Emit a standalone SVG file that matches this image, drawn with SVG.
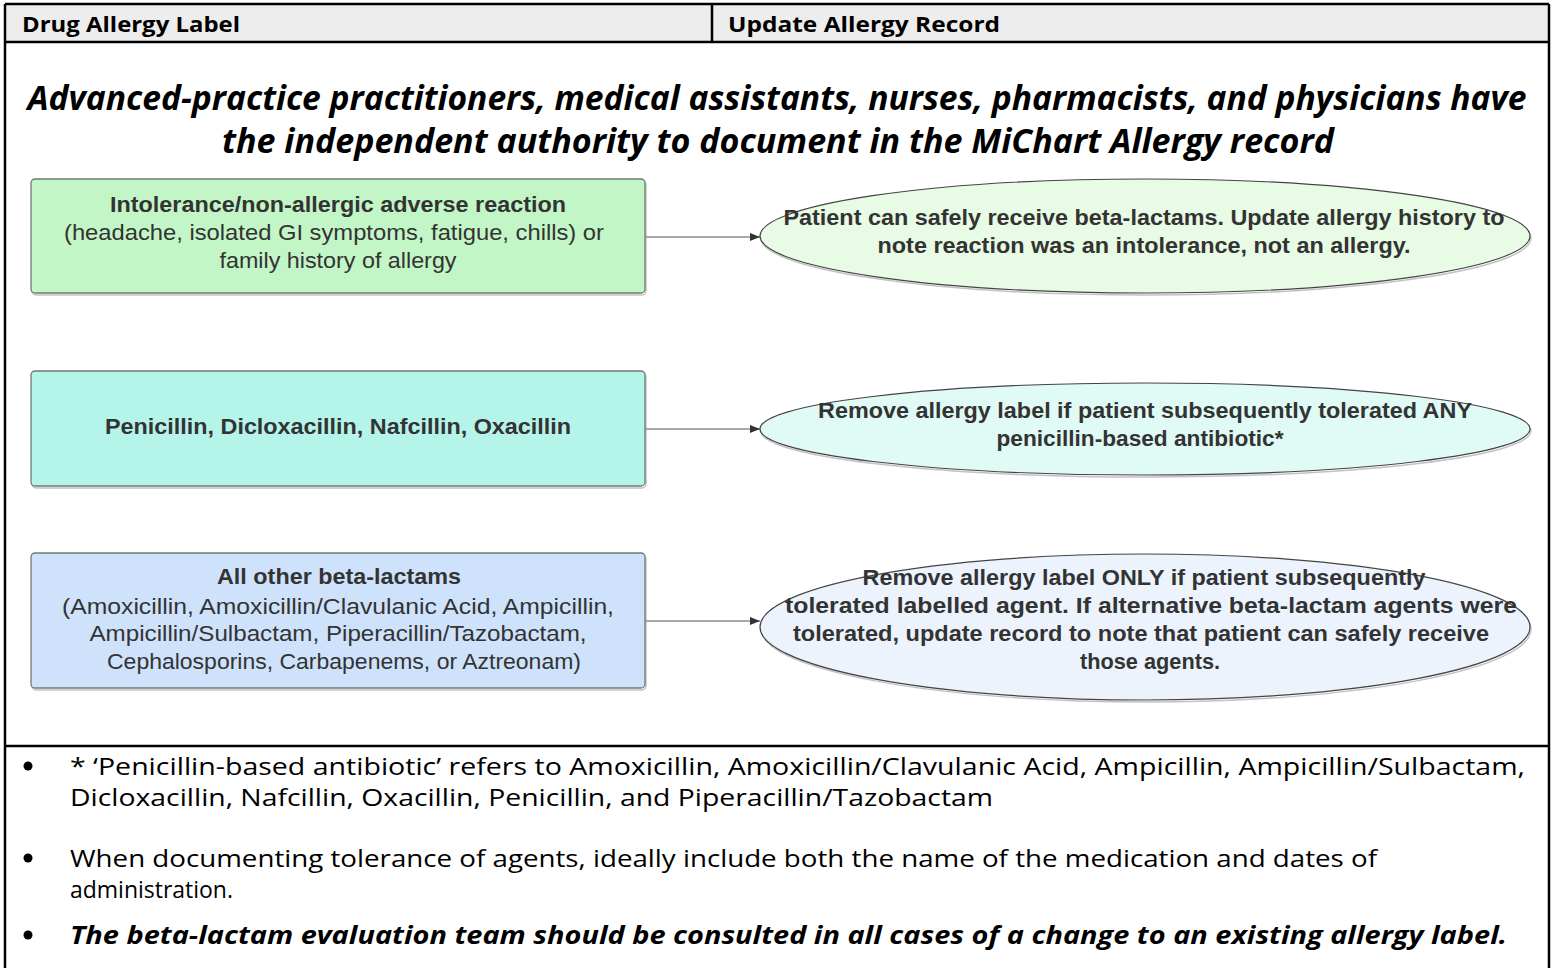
<svg xmlns="http://www.w3.org/2000/svg" width="1554" height="968" viewBox="0 0 1554 968">
<defs>
<marker id="ah" viewBox="0 0 10 10" refX="10" refY="5" markerWidth="10" markerHeight="10" markerUnits="userSpaceOnUse" orient="auto"><path d="M0,1 L10,5 L0,9 z" fill="#333"/></marker>
<style>
.hdr{font-family:"Open Sans","Liberation Sans",sans-serif;font-weight:bold;font-size:22px;fill:#000}
.ttl{font-family:"Open Sans","Liberation Sans",sans-serif;font-weight:bold;font-style:italic;font-size:34px;fill:#000;text-anchor:middle}
.nt{font-family:"Liberation Sans",Arial,sans-serif;font-size:22px;fill:#333;text-anchor:middle}
.b{font-weight:bold}
.bl{font-family:"Open Sans","Liberation Sans",sans-serif;font-size:24.5px;fill:#000}
.box{stroke:#707a70;stroke-width:1.3}
.ell{stroke:#444;stroke-width:1.2}
.conn{stroke:#555;stroke-width:1.2;fill:none}
.grid{stroke:#000;stroke-width:2.5;fill:none}
.sh{fill:none;stroke:#9a9a9a;stroke-width:1.5;opacity:0.6}
</style>
</defs>
<rect x="0" y="0" width="1554" height="968" fill="#fff"/>
<g id="table">
<rect x="5" y="4" width="1544" height="38" fill="#ededed"/>
<path class="grid" d="M5,4 H1549 M5,42 H1549 M712,4 V42 M5,4 V968 M1549,4 V968 M5,746 H1549"/>
<text class="hdr" x="22" y="32" textLength="218" lengthAdjust="spacingAndGlyphs">Drug Allergy Label</text>
<text class="hdr" x="728" y="32" textLength="272" lengthAdjust="spacingAndGlyphs">Update Allergy Record</text>
<text class="ttl" x="777" y="110" textLength="1499" lengthAdjust="spacingAndGlyphs">Advanced-practice practitioners, medical assistants, nurses, pharmacists, and physicians have</text>
<text class="ttl" x="778" y="153" textLength="1112" lengthAdjust="spacingAndGlyphs">the independent authority to document in the MiChart Allergy record</text>
</g>
<g id="connectors">
<path class="conn" d="M645,237 H760" marker-end="url(#ah)"/>
<path class="conn" d="M645,429 H760" marker-end="url(#ah)"/>
<path class="conn" d="M645,621 H760" marker-end="url(#ah)"/>
</g>
<g id="n1">
<rect class="sh" x="32" y="181" width="614" height="114" rx="4"/>
<rect class="box" x="31" y="179" width="614" height="114" rx="4" fill="#c3f6c6"/>
<text class="nt b" x="338" y="212" textLength="456" lengthAdjust="spacingAndGlyphs">Intolerance/non-allergic adverse reaction</text>
<text class="nt" x="334" y="240" textLength="540" lengthAdjust="spacingAndGlyphs">(headache, isolated GI symptoms, fatigue, chills) or</text>
<text class="nt" x="338" y="268" textLength="237" lengthAdjust="spacingAndGlyphs">family history of allergy</text>
</g>
<g id="n2">
<rect class="sh" x="32" y="373" width="614" height="115" rx="4"/>
<rect class="box" x="31" y="371" width="614" height="115" rx="4" fill="#b4f4e9"/>
<text class="nt b" x="338" y="434" textLength="466" lengthAdjust="spacingAndGlyphs">Penicillin, Dicloxacillin, Nafcillin, Oxacillin</text>
</g>
<g id="n3">
<rect class="sh" x="32" y="555" width="614" height="135" rx="4"/>
<rect class="box" x="31" y="553" width="614" height="135" rx="4" fill="#cfe2fb"/>
<text class="nt b" x="339" y="584" textLength="244" lengthAdjust="spacingAndGlyphs">All other beta-lactams</text>
<text class="nt" x="338" y="614" textLength="552" lengthAdjust="spacingAndGlyphs">(Amoxicillin, Amoxicillin/Clavulanic Acid, Ampicillin,</text>
<text class="nt" x="338" y="641" textLength="497" lengthAdjust="spacingAndGlyphs">Ampicillin/Sulbactam, Piperacillin/Tazobactam,</text>
<text class="nt" x="344" y="669" textLength="474" lengthAdjust="spacingAndGlyphs">Cephalosporins, Carbapenems, or Aztreonam)</text>
</g>
<g id="e1">
<ellipse class="sh" cx="1146" cy="238" rx="385" ry="57"/>
<ellipse class="ell" cx="1145" cy="236" rx="385" ry="57" fill="#e7fbe5"/>
<text class="nt b" x="1144" y="225" textLength="721" lengthAdjust="spacingAndGlyphs">Patient can safely receive beta-lactams. Update allergy history to</text>
<text class="nt b" x="1144" y="253" textLength="533" lengthAdjust="spacingAndGlyphs">note reaction was an intolerance, not an allergy.</text>
</g>
<g id="e2">
<ellipse class="sh" cx="1146" cy="431" rx="385" ry="46"/>
<ellipse class="ell" cx="1145" cy="429" rx="385" ry="46" fill="#e0faf5"/>
<text class="nt b" x="1145" y="418" textLength="654" lengthAdjust="spacingAndGlyphs">Remove allergy label if patient subsequently tolerated ANY</text>
<text class="nt b" x="1140" y="446" textLength="287" lengthAdjust="spacingAndGlyphs">penicillin-based antibiotic*</text>
</g>
<g id="e3">
<ellipse class="sh" cx="1146" cy="629" rx="385" ry="73"/>
<ellipse class="ell" cx="1145" cy="627" rx="385" ry="73" fill="#ecf3fd"/>
<text class="nt b" x="1144" y="585" textLength="563" lengthAdjust="spacingAndGlyphs">Remove allergy label ONLY if patient subsequently</text>
<text class="nt b" x="1151" y="613" textLength="732" lengthAdjust="spacingAndGlyphs">tolerated labelled agent. If alternative beta-lactam agents were</text>
<text class="nt b" x="1141" y="641" textLength="696" lengthAdjust="spacingAndGlyphs">tolerated, update record to note that patient can safely receive</text>
<text class="nt b" x="1150" y="669" textLength="140" lengthAdjust="spacingAndGlyphs">those agents.</text>
</g>
<g id="notes">
<circle cx="28" cy="766" r="4.5" fill="#000"/>
<circle cx="28" cy="858" r="4.5" fill="#000"/>
<circle cx="28" cy="935" r="4.5" fill="#000"/>
<text class="bl" x="70" y="775" textLength="1455" lengthAdjust="spacingAndGlyphs">* ‘Penicillin-based antibiotic’ refers to Amoxicillin, Amoxicillin/Clavulanic Acid, Ampicillin, Ampicillin/Sulbactam,</text>
<text class="bl" x="70" y="806" textLength="923" lengthAdjust="spacingAndGlyphs">Dicloxacillin, Nafcillin, Oxacillin, Penicillin, and Piperacillin/Tazobactam</text>
<text class="bl" x="70" y="867" textLength="1307" lengthAdjust="spacingAndGlyphs">When documenting tolerance of agents, ideally include both the name of the medication and dates of</text>
<text class="bl" x="70" y="898" textLength="163" lengthAdjust="spacingAndGlyphs">administration.</text>
<text class="bl" x="70" y="944" font-weight="bold" font-style="italic" textLength="1437" lengthAdjust="spacingAndGlyphs">The beta-lactam evaluation team should be consulted in all cases of a change to an existing allergy label.</text>
</g>
</svg>
